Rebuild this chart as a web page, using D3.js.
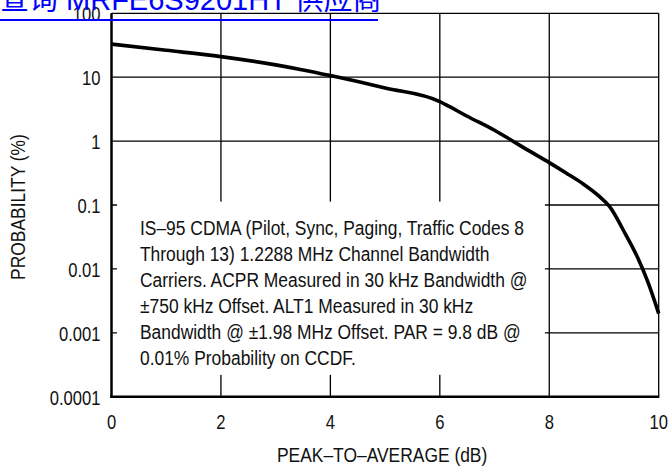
<!DOCTYPE html>
<html><head><meta charset="utf-8">
<script src="https://cdn.jsdelivr.net/npm/d3@7"></script>
<style>body{margin:0;background:#fff}svg{display:block}</style>
</head><body>
<script>
// ---- data ----
const peakToAverage = [0, 1, 2, 3, 3.5, 4, 5, 6, 6.1, 6.5, 7, 7.3, 7.6, 8, 8.3, 8.6, 8.9, 9.1, 9.4, 9.6, 9.8, 10];
const probability   = [33, 26.4, 21, 15.6, 13.0, 10.6, 6.8, 4.15, 3.75, 2.45, 1.48, 1.04, 0.73, 0.46, 0.32, 0.22, 0.14, 0.095, 0.034, 0.016, 0.0063, 0.002];
const xTicks = [0, 2, 4, 6, 8, 10];
const xTickLabels = ["0", "2", "4", "6", "8", "10"];
const yTicks = [100, 10, 1, 0.1, 0.01, 0.001, 0.0001];
const yTickLabels = ["100", "10", "1", "0.1", "0.01", "0.001", "0.0001"];
const xTitle = "PEAK\u2013TO\u2013AVERAGE (dB)";
const yTitle = "PROBABILITY (%)";
const noteLines = [
  "IS\u201395 CDMA (Pilot, Sync, Paging, Traffic Codes 8",
  "Through 13) 1.2288 MHz Channel Bandwidth",
  "Carriers. ACPR Measured in 30 kHz Bandwidth @",
  "\u00b1750 kHz Offset. ALT1 Measured in 30 kHz",
  "Bandwidth @ \u00b11.98 MHz Offset. PAR = 9.8 dB @",
  "0.01% Probability on CCDF."
];
const linkText = "\u67e5\u8be2 MRFE6S9201HT \u4f9b\u5e94\u5546";

// ---- layout ----
const W = 669, H = 468;
const m = {left: 111.5, right: 10.3, top: 13.3, bottom: 71.3};
const FONT = "'Liberation Sans', Arial, sans-serif";
const SX = 0.83; // horizontal condensing to mimic a narrow face

const svg = d3.select("body").append("svg").attr("width", W).attr("height", H);

const x = d3.scaleLinear().domain([0, 10]).range([m.left, W - m.right]);
const y = d3.scaleLog().domain([0.0001, 100]).range([H - m.bottom, m.top]);

function label(parent, tx, ty, str, size, anchor, rot) {
  const t = parent.append("g")
    .attr("transform", `translate(${tx},${ty})` + (rot ? ` rotate(${rot})` : "") + ` scale(${SX},1)`);
  return t.append("text")
    .attr("text-anchor", anchor || "start")
    .attr("font-family", FONT).attr("font-size", size).attr("fill", "#111")
    .text(str);
}

// grid
const gv = svg.append("g").attr("class", "vgrid");
xTicks.forEach(d => {
  gv.append("line")
    .attr("x1", x(d)).attr("x2", x(d))
    .attr("y1", y(100)).attr("y2", y(0.0001))
    .attr("stroke", "#000").attr("stroke-width", 1.3);
});
const gh = svg.append("g").attr("class", "hgrid");
yTicks.forEach(d => {
  gh.append("line")
    .attr("x1", x(0)).attr("x2", x(10))
    .attr("y1", y(d)).attr("y2", y(d))
    .attr("stroke", "#000").attr("stroke-width", 1.3);
});

// note box (white, covers grid)
const bx0 = x(0.1), bx1 = x(7.92), by0 = y(0.113), by1 = y(0.00022);
svg.append("rect").attr("x", bx0).attr("y", by0)
  .attr("width", bx1 - bx0).attr("height", by1 - by0).attr("fill", "#fff");
const noteG = svg.append("g");
noteLines.forEach((s, i) => label(noteG, bx0 + 23, by0 + 33.3 + i * 26.1, s, 21, "start"));

// axes lines (left + bottom thick)
svg.append("line").attr("x1", x(0)).attr("x2", x(0)).attr("y1", y(100)).attr("y2", y(0.0001) + 1.2)
  .attr("stroke", "#000").attr("stroke-width", 2.4);
svg.append("line").attr("x1", x(0) - 1.2).attr("x2", x(10) + 0.6).attr("y1", y(0.0001)).attr("y2", y(0.0001))
  .attr("stroke", "#000").attr("stroke-width", 2.6);

// tick labels
const xl = svg.append("g");
xTicks.forEach((d, i) => label(xl, x(d), y(0.0001) + 32.5, xTickLabels[i], 20, "middle"));
const yl = svg.append("g");
yTicks.forEach((d, i) => label(yl, x(0) - 11, y(d) + 8, yTickLabels[i], 20, "end"));

// axis titles
label(svg, (x(0) + x(10)) / 2 - 3, H - 6.5, xTitle, 21, "middle");
label(svg, 25, (y(100) + y(0.0001)) / 2 + 2, yTitle, 21, "middle", -90);

// curve
const pts = peakToAverage.map((d, i) => [d, probability[i]]);
svg.append("path").datum(pts)
  .attr("d", d3.line().x(d => x(d[0])).y(d => y(d[1])).curve(d3.curveMonotoneX))
  .attr("fill", "none").attr("stroke", "#000").attr("stroke-width", 3.6)
  .attr("stroke-linejoin", "round");

// top link overlay
svg.append("text").attr("x", 0).attr("y", 10)
  .attr("font-family", "'Liberation Sans', 'Noto Sans CJK SC', sans-serif")
  .attr("font-size", 29).attr("fill", "#0000ff")
  .text(linkText);
svg.append("line").attr("x1", 0).attr("x2", 378).attr("y1", 20).attr("y2", 20)
  .attr("stroke", "#0000ff").attr("stroke-width", 2);
</script>
</body></html>
